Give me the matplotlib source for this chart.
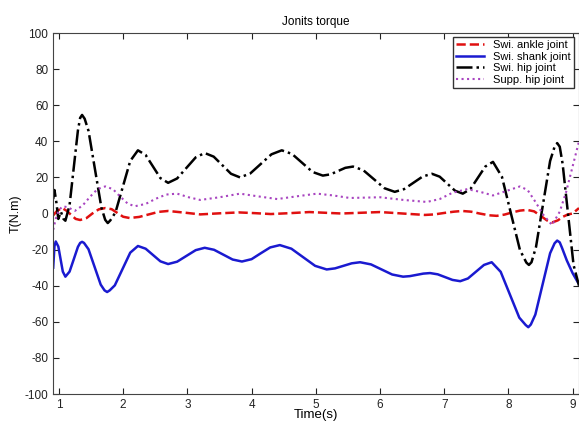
import matplotlib.pyplot as plt

plt.rcParams['font.family'] = ['Liberation Sans', 'DejaVu Sans']
plt.rcParams['axes.unicode_minus'] = False

# Swi. ankle joint
t_ankle = [0.91, 0.97, 1.05, 1.12, 1.19, 1.26, 1.33, 1.43, 1.52, 1.62, 1.72, 1.82, 1.91, 2.0, 2.1,
           2.25, 2.4, 2.55, 2.7, 2.95, 3.2, 3.5, 3.8, 4.05, 4.3, 4.6, 4.9, 5.15, 5.4, 5.7, 6.0,
           6.35, 6.7, 6.85, 7.0, 7.15, 7.28, 7.42, 7.55, 7.7, 7.82, 7.94, 8.06, 8.18, 8.29, 8.4,
           8.5, 8.6, 8.68, 8.77, 8.85, 8.93, 9.0, 9.1]
ankle = [-1, 1.5, 3, 1.5, -0.8, -3, -3.6, -2.5, 0, 2.3, 3, 2.4, 0.3, -1.8, -2.5,
         -1.9, -0.5, 0.9, 1.4, 0.5, -0.5, 0.1, 0.6, 0.2, -0.3, 0.2, 0.8, 0.4, 0, 0.4, 0.8,
         0, -0.8, -0.5, 0.3, 1.0, 1.4, 1.0, 0, -1.0, -1.3, -0.6, 0.6, 1.6, 2, 1.2,
         -1.2, -3.8, -5, -3.8, -1.8, -0.5, 0, 3]

# Swi. shank joint
t_shank = [0.91, 0.93, 0.95, 0.99, 1.025, 1.06, 1.10, 1.165, 1.23, 1.295, 1.33, 1.36, 1.39, 1.46,
           1.555, 1.65, 1.71, 1.75, 1.79, 1.87, 1.99, 2.11, 2.23, 2.35, 2.465, 2.58, 2.70, 2.84,
           2.985, 3.13, 3.27, 3.415, 3.56, 3.705, 3.85, 4.0, 4.145, 4.29, 4.44, 4.62, 4.805, 4.99,
           5.17, 5.30, 5.43, 5.56, 5.69, 5.86, 6.025, 6.19, 6.36, 6.465, 6.57, 6.675, 6.78, 6.90,
           7.015, 7.13, 7.25, 7.37, 7.495, 7.62, 7.74, 7.88, 8.025, 8.17, 8.27, 8.31, 8.35, 8.42,
           8.535, 8.65, 8.72, 8.76, 8.80, 8.835, 8.91, 9.0, 9.08, 9.1]
shank = [-30, -18, -15.5, -18.3, -25.3, -32.2, -35, -32.2, -25.4, -18.5, -16.3, -15.7, -16.3, -19.8,
         -29.6, -39.4, -42.6, -43.5, -42.6, -39.8, -30.75, -21.7, -18, -19.5, -23, -26.5, -28, -26.7,
         -23.5, -20.3, -19, -20.1, -22.8, -25.5, -26.6, -25.3, -22, -18.8, -17.5, -19.5, -24.25, -29,
         -31, -30.4, -29, -27.6, -27, -28.2, -31, -33.8, -35, -34.7, -34, -33.3, -33, -33.7,
         -35.25, -36.8, -37.5, -36, -32.25, -28.5, -27, -32.3, -45, -57.7, -61.8, -63, -61.5, -56,
         -39, -22, -16.5, -15, -16, -19, -26, -33, -38, -39]

# Swi. hip joint
t_hip = [0.91, 0.93, 0.96, 0.99, 1.03, 1.07, 1.10, 1.165, 1.23, 1.295, 1.33, 1.36, 1.40, 1.46,
         1.56, 1.66, 1.72, 1.76, 1.80, 1.88, 1.995, 2.11, 2.23, 2.35, 2.465, 2.58, 2.70, 2.84,
         2.985, 3.13, 3.27, 3.41, 3.545, 3.68, 3.82, 3.98, 4.145, 4.31, 4.47, 4.63, 4.79, 4.95,
         5.11, 5.23, 5.345, 5.46, 5.58, 5.74, 5.905, 6.07, 6.23, 6.375, 6.52, 6.665, 6.81, 6.93,
         7.05, 7.17, 7.29, 7.41, 7.525, 7.64, 7.76, 7.90, 8.04, 8.18, 8.28, 8.32, 8.36, 8.43,
         8.54, 8.65, 8.72, 8.76, 8.80, 8.845, 8.93, 9.015, 9.1]
hip = [8, 13, 6, -3, 1, -3, -4, 4.6, 25.3, 46, 53, 54.6, 52.5, 45.8,
       24.65, 3.4, -3.5, -5.3, -3.8, 0.6, 14.85, 29.1, 35, 32.4, 26, 19.6, 17, 19.4,
       25.25, 31.1, 33.5, 31.5, 26.75, 22, 20, 22.2, 27.5, 32.8, 35, 33, 28, 23,
       21, 21.7, 23.5, 25.3, 26, 24, 19, 14, 12, 13.5, 17, 20.5, 22, 20.4,
       16.5, 12.6, 11, 13.6, 19.8, 26, 28.6, 20.3, 0, -20.2, -27.2, -28.5, -27, -18.6,
       5.25, 29.1, 37, 39, 37, 27.5, -0.5, -28.5, -40]

# Supp. hip joint
t_supp = [0.91, 0.95, 1.0, 1.06, 1.13, 1.25, 1.37, 1.49, 1.6, 1.72, 1.84, 1.95, 2.07, 2.18, 2.35,
          2.51, 2.67, 2.84, 3.02, 3.2, 3.5, 3.82, 4.1, 4.4, 4.7, 5.02, 5.27, 5.53, 5.77, 6.0,
          6.37, 6.73, 6.93, 7.13, 7.36, 7.56, 7.76, 7.97, 8.18, 8.3, 8.42, 8.55, 8.68, 8.8,
          8.9, 9.0, 9.1]
supp = [-9, -3, 2, 4, 3.5, 1.5, 4.5, 9.5, 13.5, 15, 13.5, 9.5, 5.5, 4, 5.3,
        8.2, 10.5, 11, 9, 7.5, 9, 11, 9.5, 8, 9.5, 11, 10, 8.6, 8.8, 9,
        7.5, 6.4, 8, 11.5, 13.5, 12, 10, 12.5, 15, 13, 6.5, -1, -6.4, 1,
        12, 26, 40]

fig = plt.figure(figsize=(5.79, 4.23), dpi=100)
ax = fig.add_axes([53 / 579, 1 - 394 / 423, 526 / 579, 361 / 423])

ax.plot(t_ankle, ankle, '--', color='#e01010', lw=1.8, label='Swi. ankle joint')
ax.plot(t_shank, shank, '-', color='#1a1ad0', lw=1.8, label='Swi. shank joint')
ax.plot(t_hip, hip, '-.', color='black', lw=1.8, label='Swi. hip joint')
ax.plot(t_supp, supp, ':', color='#a844c0', lw=1.5, label='Supp. hip joint')

ax.set_xlim(0.907, 9.1)
ax.set_ylim(-100, 100)
ax.set_xticks(range(1, 10))
ax.set_yticks(range(-100, 101, 20))
ax.tick_params(direction='in', top=True, right=True, labelsize=8.5, length=4, colors='#222222')
for s in ax.spines.values():
    s.set_color('#444444')

ax.set_title('Jonits torque', fontsize=8.5, pad=6)
ax.set_xlabel('Time(s)', fontsize=9.5, labelpad=-1)
ax.set_ylabel('T(N.m)', fontsize=9, labelpad=2)

leg = ax.legend(loc='upper right', bbox_to_anchor=(0.99, 0.99), borderaxespad=0, fontsize=8,
                fancybox=False, framealpha=1, edgecolor='#333333', handlelength=2.5,
                labelspacing=0.15, borderpad=0.3)

fig.savefig('out.png', dpi=100)
